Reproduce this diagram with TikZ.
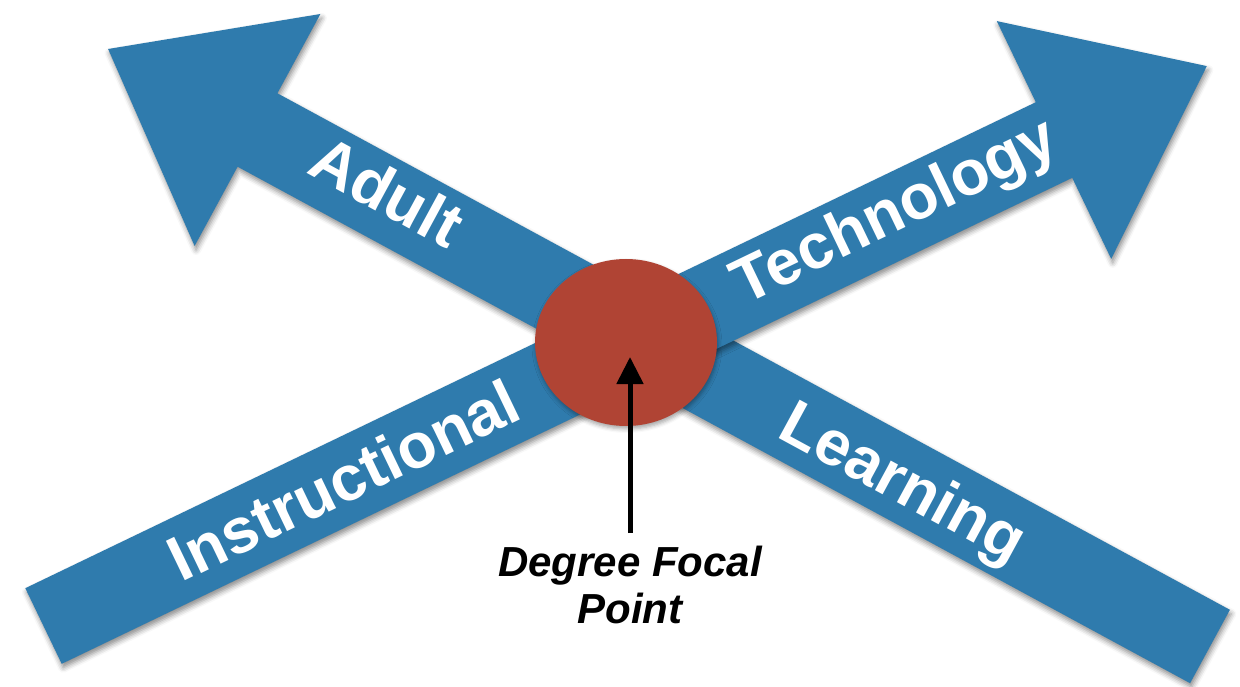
\documentclass[tikz,border=0pt]{standalone}
\usepackage{fontspec}
\setmainfont{Liberation Sans}
\usetikzlibrary{shapes.geometric,shadows.blur,arrows.meta,calc}
\definecolor{feltblue}{HTML}{2F7BAD}
\definecolor{feltred}{HTML}{B04434}
\begin{document}
\begin{tikzpicture}[x=1pt,y=-1pt,
  bigarrow/.style={fill=feltblue, draw=none,
    blur shadow={shadow xshift=1.5pt, shadow yshift=-4pt, shadow blur radius=5pt, shadow opacity=45}},
  armlabel/.style={text=white, font=\fontsize{63.5}{70}\selectfont\bfseries, inner sep=0pt, anchor=base},
  focalspot/.style={ellipse, fill=feltred, draw=none, minimum width=182pt, minimum height=167pt, inner sep=0pt,
    blur shadow={shadow xshift=1pt, shadow yshift=-3pt, shadow blur radius=4pt, shadow opacity=35}},
  captiontext/.style={font=\fontsize{42}{47}\selectfont\bfseries\itshape, align=center, inner sep=0pt, anchor=north},
  pointer/.style={draw=black, line width=5pt, -{Triangle[width=26pt,length=27pt,fill=black]}}
]
\useasboundingbox (0,0) rectangle (1240,687);
% Learning -> Adult arrow
\path[bigarrow] (1229.9,609.8) -- (277.4,93.3) -- (320.4,14) -- (108.1,49) -- (194.6,246) -- (237.6,166.7) -- (1190.1,683.2) -- cycle;
% Instructional -> Technology arrow
\path[bigarrow] (25.3,588.2) -- (1035.8,102.2) -- (996.8,21.1) -- (1206.8,66.1) -- (1111.2,258.9) -- (1072.2,177.8) -- (61.7,663.8) -- cycle;
% labels on arrows
\node[armlabel, rotate=25.7] (instr) at (353,500.1) {Instructional};
\node[armlabel, rotate=25.7] (tech) at (903.3,228.8) {Technology};
\node[armlabel, rotate=-28.5] (adult) at (376.5,211) {Adult};
\node[armlabel, rotate=-28.5] (learn) at (893.5,500) {Learning};
% focal point
\node[focalspot] (focus) at (626,342.5) {};
\coordinate (tip) at (630,357);
\node[captiontext] (cap) at (630,546) {Degree Focal\\Point};
\draw[pointer] ($(cap.north)+(0,-13)$) -- (tip);
\end{tikzpicture}
\end{document}
